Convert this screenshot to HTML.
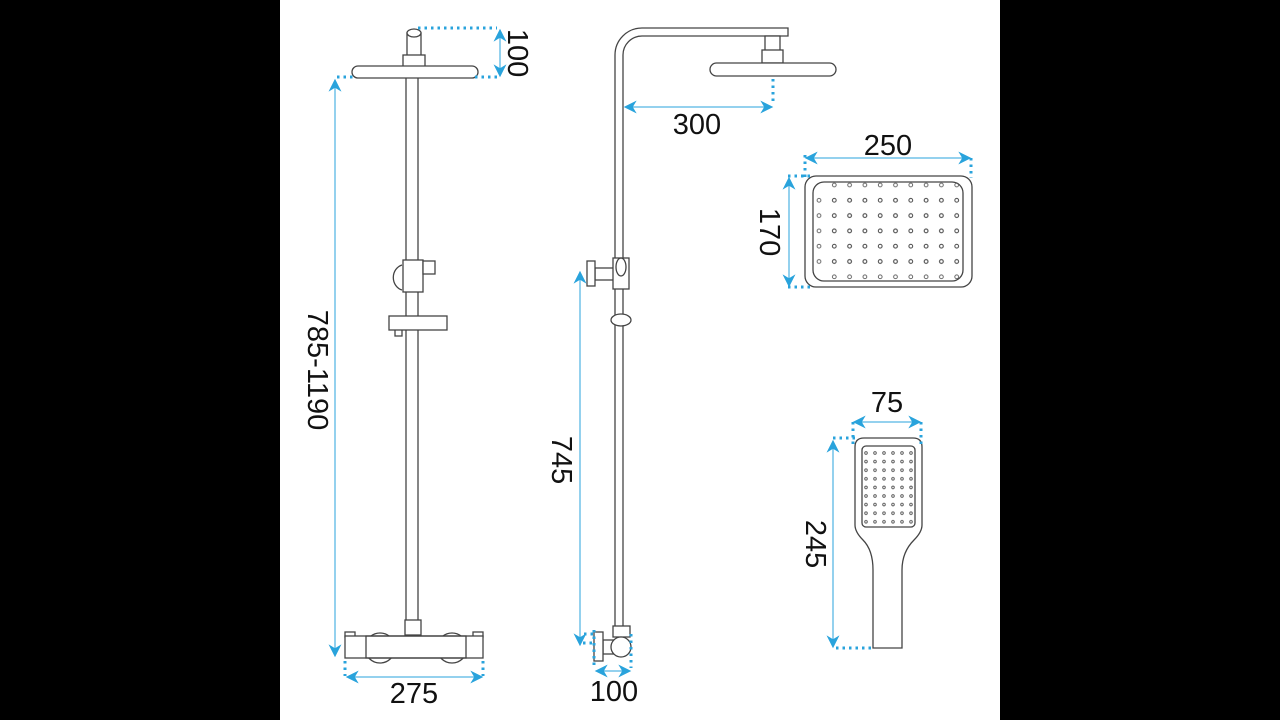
<!DOCTYPE html>
<html><head><meta charset="utf-8"><style>
html,body{margin:0;padding:0;background:#000;}
svg{display:block}
text{font-family:"Liberation Sans",sans-serif;fill:#111;}
</style></head><body>
<svg width="1280" height="720" viewBox="0 0 1280 720" xmlns="http://www.w3.org/2000/svg">
<defs>
<marker id="a" viewBox="0 0 10 10" refX="9" refY="5" markerWidth="13" markerHeight="13" markerUnits="userSpaceOnUse" orient="auto-start-reverse"><path d="M0,0 L10,5 L0,10 L3,5 Z" fill="#29a3dc"/></marker>
<pattern id="p1" patternUnits="userSpaceOnUse" x="811.35" y="177.35" width="15.3" height="15.3"><circle cx="7.65" cy="7.65" r="1.9" fill="none" stroke="#555" stroke-width="0.9"/></pattern>
<pattern id="p2" patternUnits="userSpaceOnUse" x="861.5" y="448.7" width="9" height="8.6"><circle cx="4.5" cy="4.3" r="1.3" fill="none" stroke="#555" stroke-width="0.9"/></pattern>
</defs>
<rect x="280" y="0" width="720" height="720" fill="#fff"/>
<g fill="#fff" stroke="#444" stroke-width="1.3">
<!-- LEFT -->
<rect x="406" y="62" width="12" height="572"/>
<rect x="407" y="33" width="14" height="23"/>
<ellipse cx="414" cy="33" rx="7" ry="4"/>
<rect x="403" y="55" width="22" height="12"/>
<rect x="352" y="66" width="126" height="12" rx="6"/>
<path d="M402,265 A12,13 0 0 0 402,290"/>
<rect x="403" y="260" width="20" height="32"/>
<rect x="423" y="261" width="12" height="13"/>
<rect x="395" y="329" width="7" height="7"/>
<rect x="389" y="316" width="58" height="14"/>
<circle cx="380" cy="648" r="15"/>
<circle cx="452" cy="648" r="15"/>
<rect x="405" y="620" width="16" height="15"/>
<rect x="345" y="632" width="10" height="5"/>
<rect x="473" y="632" width="10" height="5"/>
<rect x="345" y="636" width="138" height="22"/>
<rect x="366" y="636" width="100" height="22" fill="none"/>
<!-- MIDDLE -->
<path d="M615,628 L615,55 A27,27 0 0 1 642,28 L788,28 L788,36 L642,36 A19,19 0 0 0 623,55 L623,628"/>
<rect x="765" y="36" width="15" height="15"/>
<rect x="762" y="50" width="21" height="13"/>
<rect x="710" y="63" width="126" height="13" rx="6.5"/>
<rect x="595" y="268" width="19" height="12"/>
<rect x="587" y="261" width="8" height="25"/>
<rect x="613" y="258" width="16" height="31"/>
<ellipse cx="621" cy="267" rx="5" ry="9" fill="none"/>
<ellipse cx="621" cy="320" rx="10" ry="6"/>
<rect x="603" y="640" width="12" height="14"/>
<rect x="594" y="632" width="9" height="29"/>
<rect x="613" y="626" width="17" height="11"/>
<circle cx="621" cy="647" r="10"/>
<!-- RECT HEAD -->
<rect x="805" y="176" width="167" height="111" rx="11"/>
<rect x="813" y="182" width="150" height="99" rx="11"/>
<!-- HAND -->
<path d="M873,648 L873,570 Q873,550 863,540 Q855,532 855,525 L855,447 Q855,438 864,438 L913,438 Q922,438 922,447 L922,525 Q922,532 914,540 Q902,552 902,570 L902,648 Z"/>
<rect x="862" y="446" width="53" height="81" rx="4"/>
</g>
<rect x="826.65" y="177.35" width="137.7" height="107.1" fill="url(#p1)"/>
<rect x="811.35" y="192.65" width="153" height="76.5" fill="url(#p1)"/>
<rect x="861.5" y="448.7" width="54" height="77.4" fill="url(#p2)"/>
<g stroke="#29a3dc" fill="none">
<g stroke-width="3" stroke-dasharray="2.5 4">
<path d="M418,28 L497,28 M475,77 L497,77 M337,77 L355,77"/>
<path d="M773,79 L773,104"/>
<path d="M345,661 L345,676 M483,661 L483,676"/>
<path d="M594,630 L594,668 M631,634 L631,668 M583,643 L594,643 M584,634 L594,634"/>
<path d="M805,155 L805,178 M971,158 L971,178 M788,176 L812,176 M788,287 L813,287"/>
<path d="M853,422 L853,446 M921,422 L921,446 M833,438 L858,438 M836,648 L873,648"/>
</g>
<g stroke-width="1" marker-start="url(#a)" marker-end="url(#a)">
<path d="M500,30 L500,76"/>
<path d="M335,80 L335,656"/>
<path d="M347,677 L482,677"/>
<path d="M625,107 L772,107"/>
<path d="M580,272 L580,645"/>
<path d="M596,671 L630,671"/>
<path d="M806,158 L970,158"/>
<path d="M789,178 L789,286"/>
<path d="M854,422 L920,422"/>
<path d="M833,441 L833,647"/>
</g>
</g>
<g font-size="29">
<text x="414" y="703" text-anchor="middle">275</text>
<text x="614" y="701" text-anchor="middle">100</text>
<text x="697" y="134" text-anchor="middle">300</text>
<text x="888" y="155" text-anchor="middle">250</text>
<text x="887" y="412" text-anchor="middle">75</text>
<text transform="translate(508,53) rotate(90)" text-anchor="middle">100</text>
<text transform="translate(308,370) rotate(90)" text-anchor="middle">785-1190</text>
<text transform="translate(552,460) rotate(90)" text-anchor="middle">745</text>
<text transform="translate(760,232) rotate(90)" text-anchor="middle">170</text>
<text transform="translate(806,544) rotate(90)" text-anchor="middle">245</text>
</g>
</svg>
</body></html>
